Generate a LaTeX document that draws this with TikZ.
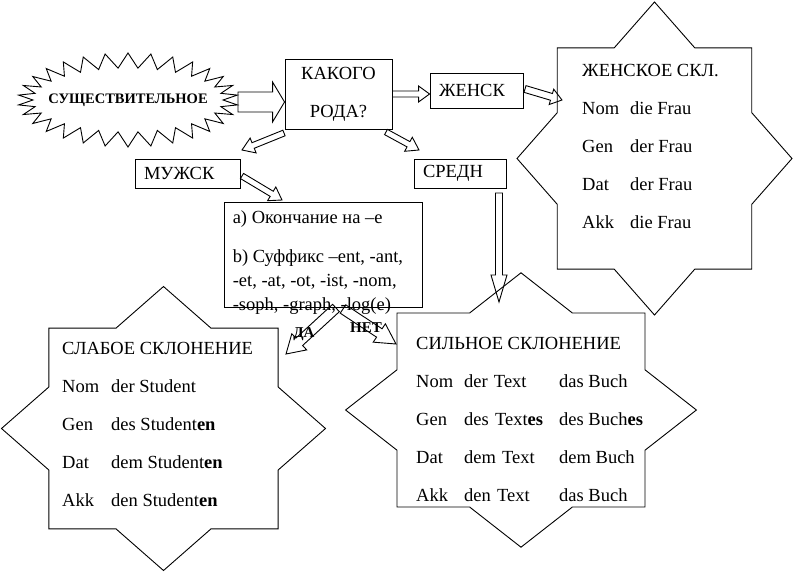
\documentclass[tikz,border=0pt]{standalone}
\usepackage{fontspec}
\setmainfont{Liberation Serif}
\usetikzlibrary{positioning, calc, matrix, shapes.symbols}

\tikzset{
    box/.style={draw, line width=0.9pt, inner xsep=9pt, inner ysep=0pt, align=left},
    arrowline/.style={draw, line width=0.9pt, line join=miter},
    starline/.style={draw, line width=0.9pt},
    decl/.style={matrix of nodes, inner sep=0pt, row sep=21pt, anchor=north west,
        nodes={inner sep=0pt, anchor=base west, text height=13pt, text depth=4pt}},
    decltitle/.style={inner sep=0pt, anchor=base west},
    lbl/.style={inner sep=0pt, font=\fontsize{15}{15}\selectfont\bfseries},
}

% hollow block arrow: tail, tip, shaft half width, head half width, head length
\newcommand{\blockarrow}[5]{%
    \coordinate (ba-base) at ($(#2)!#5!(#1)$);
    \draw[arrowline] ($(#1)!#3!90:(#2)$) -- ($(ba-base)!#3!-90:(#1)$) -- ($(ba-base)!#4!-90:(#1)$)
        -- (#2) -- ($(ba-base)!#4!90:(#1)$) -- ($(ba-base)!#3!90:(#1)$) -- ($(#1)!#3!-90:(#2)$) -- cycle;
}
% eight-pointed star: centre x, centre y, x radius, y radius
\newcommand{\octstar}[4]{%
    \draw[starline] plot[samples at={0,22.5,...,337.5}]
        ({#1+#3*(0.8827+0.1173*cos(8*\x))*cos(\x)}, {#2+#4*(0.8827+0.1173*cos(8*\x))*sin(\x)}) -- cycle;
}

\begin{document}
\begin{tikzpicture}[x=1pt, y=-1pt, font=\fontsize{18.5}{22}\selectfont]
    \useasboundingbox (0,0) rectangle (793,573);

    % question part
    \node[starburst, starburst points=30, starburst point height=15pt, random starburst=0,
        draw, line width=0.9pt, inner sep=0pt, minimum width=220pt, minimum height=94pt] (burst) at (128,100) {};
    \node[font=\fontsize{14.5}{14.5}\selectfont\bfseries, inner sep=0pt] (noun) at (burst.center) {СУЩЕСТВИТЕЛЬНОЕ};
    \node[box, align=center, minimum width=107pt, minimum height=70pt, inner xsep=0pt,
        font=\fontsize{18.5}{38}\selectfont] (kakogo) at (338.5,94) {КАКОГО\\РОДА?};
    \node[box, text width=75pt, minimum height=35pt] (zhensk) at (476.5,90.5) {ЖЕНСК};
    \node[box, text width=87pt, minimum height=29pt] (muzhsk) at (187.5,173.5) {МУЖСК};
    \node[box, text width=74pt, minimum height=29pt] (sredn) at (460,173.5) {СРЕДН};
    \node[box, minimum width=198pt, minimum height=105pt] (rules) at (323,254.5) {};
    \node[anchor=north west, inner sep=0pt, align=left, font=\fontsize{18.5}{24}\selectfont]
        (ruletext) at ([xshift=9pt, yshift=-9pt]rules.north west)
        {a) Окончание на –e\\[15pt]b) Суффикс –ent, -ant,\\-et, -at, -ot, -ist, -nom,\\-soph, -graph, -log(e)};

    % feminine
    \octstar{654.5}{158.5}{137.5}{156.5}
    \node[decltitle] (fraut) at (582,76) {ЖЕНСКОЕ СКЛ.};
    \matrix (frau) [decl, below right=25pt and 0pt of fraut.base west,
        column 1/.style={nodes={text width=48pt}}]
    {
        Nom & die Frau\\
        Gen & der Frau\\
        Dat & der Frau\\
        Akk & die Frau\\
    };

    % weak
    \octstar{163.5}{428.5}{162}{142}
    \node[decltitle] (schwacht) at (62,354) {СЛАБОЕ СКЛОНЕНИЕ};
    \matrix (schwach) [decl, below right=25pt and 0pt of schwacht.base west,
        column 1/.style={nodes={text width=49pt}}]
    {
        Nom & der Student\\
        Gen & des Student\textbf{en}\\
        Dat & dem Student\textbf{en}\\
        Akk & den Student\textbf{en}\\
    };

    % strong
    \octstar{521}{410}{175.4}{137.2}
    \node[decltitle] (starkt) at (416,349) {СИЛЬНОЕ СКЛОНЕНИЕ};
    \matrix (stark) [decl, below right=25pt and 0pt of starkt.base west,
        column 1/.style={nodes={text width=48pt}},
        column 2/.style={nodes={text width=95pt}}]
    {
        Nom & der Text & das Buch\\
        Gen & des Text\textbf{es} & des Buch\textbf{es}\\
        Dat & dem Text & dem Buch\\
        Akk & den Text & das Buch\\
    };

    % arrows
    \coordinate (b-out) at (238,102);
    \coordinate (k-in) at (kakogo.west |- b-out);
    \coordinate (z-in) at (zhensk.west |- kakogo.east);
    \coordinate (z-out) at (525,89);
    \coordinate (f-in) at (562,100);
    \coordinate (k-sw) at (284,133);
    \coordinate (m-in) at (242,150);
    \coordinate (m-out) at (242,176);
    \coordinate (r-in) at (282,200);
    \coordinate (k-se) at (386,132);
    \coordinate (s-in) at (419,150);
    \coordinate (s-out) at (499,193);
    \coordinate (st-in) at (499,302);
    \coordinate (da-out) at (336,308);
    \coordinate (da-in) at (286,354);
    \coordinate (net-out) at (343,309);
    \coordinate (net-in) at (396,344);

    \blockarrow{b-out}{k-in}{10pt}{20pt}{12pt}
    \blockarrow{kakogo.east}{z-in}{3pt}{8pt}{11pt}
    \blockarrow{z-out}{f-in}{3.5pt}{8pt}{11pt}
    \blockarrow{k-sw}{m-in}{3pt}{8pt}{12pt}
    \blockarrow{m-out}{r-in}{3pt}{8pt}{12pt}
    \blockarrow{k-se}{s-in}{3pt}{8pt}{12pt}
    \blockarrow{s-out}{st-in}{3.5pt}{8pt}{27pt}
    \blockarrow{da-out}{da-in}{5pt}{11pt}{18pt}
    \blockarrow{net-out}{net-in}{5pt}{11pt}{20pt}

    \node[lbl] (da) at (304,334) {ДА};
    \node[lbl] (net) at (366,328) {НЕТ};
\end{tikzpicture}
\end{document}
